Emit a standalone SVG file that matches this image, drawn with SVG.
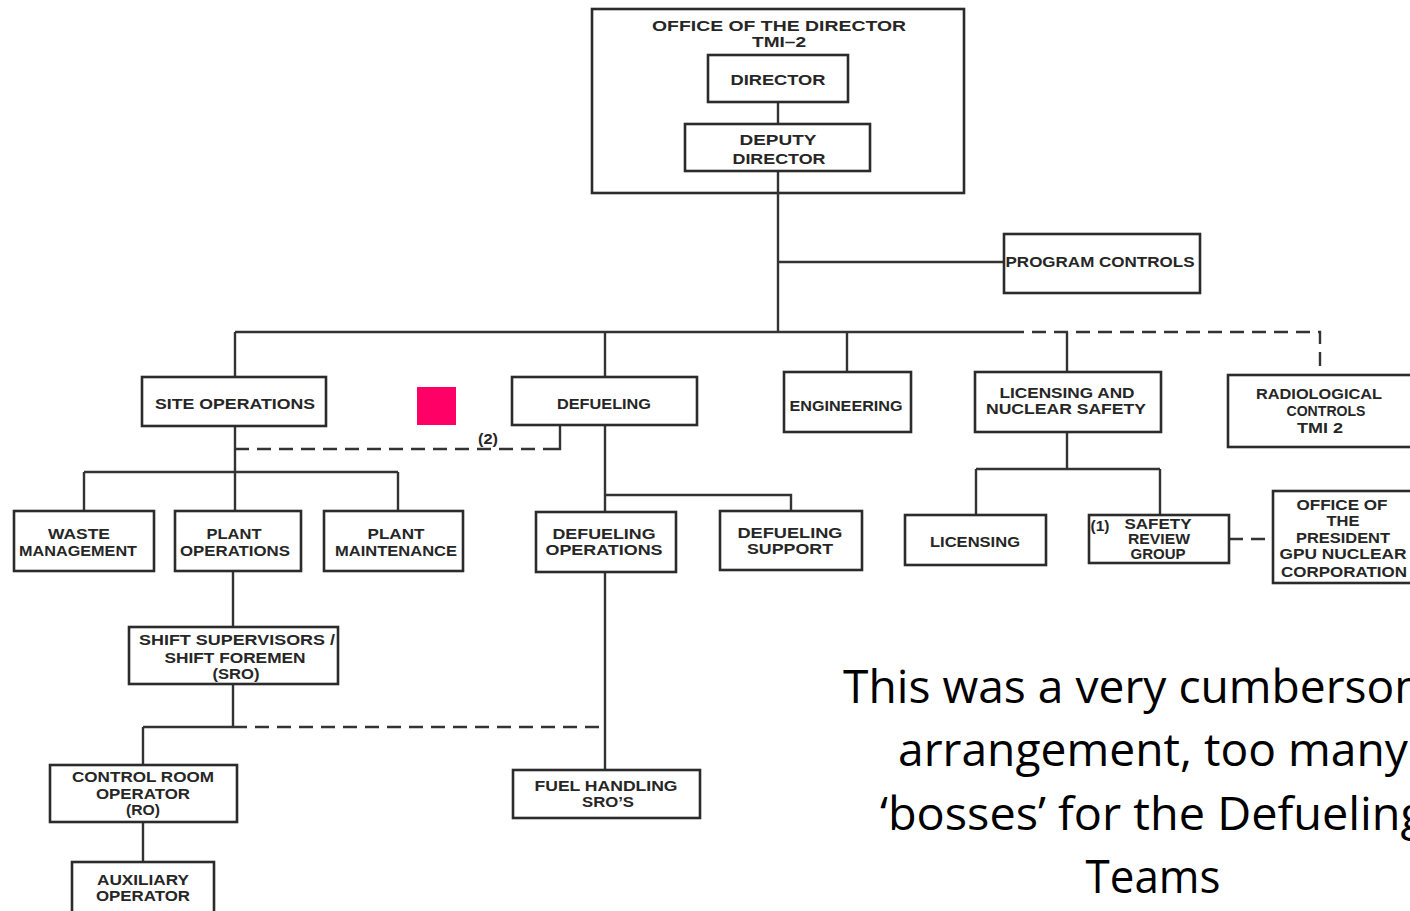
<svg xmlns="http://www.w3.org/2000/svg" width="1410" height="911" viewBox="0 0 1410 911">
<style>
.b{fill:#fff;stroke:#2b2b2b;stroke-width:2.6}
.t{font-family:"Liberation Sans",Arial,sans-serif;font-weight:bold;font-size:15px;fill:#262626;text-anchor:middle}
.c{fill:none;stroke:#333;stroke-width:2.4}
.d{fill:none;stroke:#333;stroke-width:2.4;stroke-dasharray:14 8}
.n{font-family:"Open Sans","Noto Sans",sans-serif;font-size:45px;fill:#000;text-anchor:middle}
</style>
<rect width="1410" height="911" fill="#fff"/>
<g id="office">
<rect x="592" y="9" width="372" height="184" fill="none" stroke="#2b2b2b" stroke-width="2.6"/>
<text class="t" x="779" y="31" textLength="254" lengthAdjust="spacingAndGlyphs">OFFICE OF THE DIRECTOR</text>
<text class="t" x="779" y="47" textLength="54" lengthAdjust="spacingAndGlyphs">TMI–2</text>
</g>
<g id="connectors">
<path class="c" d="M778 102V124M778 171V332M778 262H1004M235 332H1010M235 332V377M605 332V377M847 332V372M1067 332V372"/>
<path class="d" d="M1010 332H1320V375"/>
<path class="d" d="M235 449H552"/>
<path class="c" d="M552 449H560V426"/>
<path class="c" d="M235 426V511M84 472H398M84 472V511M398 472V511"/>
<path class="c" d="M605 425V770M605 495H791V511"/>
<path class="c" d="M1067 432V469M976 469H1160M976 469V515M1160 469V515"/>
<path class="d" d="M1229 539H1273"/>
<path class="c" d="M233 571V627M233 684V727M143 727H233M143 727V765M143 822V862"/>
<path class="d" d="M233 727H605"/>
</g>
<g id="director"><rect class="b" x="708" y="55" width="140" height="47"/>
<text class="t" x="778" y="85" textLength="95" lengthAdjust="spacingAndGlyphs">DIRECTOR</text></g>
<g id="deputy"><rect class="b" x="685" y="124" width="185" height="47"/>
<text class="t" x="778" y="145" textLength="77" lengthAdjust="spacingAndGlyphs">DEPUTY</text>
<text class="t" x="779" y="164" textLength="93" lengthAdjust="spacingAndGlyphs">DIRECTOR</text></g>
<g id="program"><rect class="b" x="1004" y="234" width="196" height="59"/>
<text class="t" x="1100" y="267" textLength="189" lengthAdjust="spacingAndGlyphs">PROGRAM CONTROLS</text></g>
<g id="siteops"><rect class="b" x="142" y="377" width="184" height="49"/>
<text class="t" x="235" y="409" textLength="160" lengthAdjust="spacingAndGlyphs">SITE OPERATIONS</text></g>
<rect id="marker" x="417" y="387" width="39" height="38" fill="#ff0066"/>
<g id="defueling"><rect class="b" x="512" y="377" width="185" height="48"/>
<text class="t" x="604" y="409" textLength="94" lengthAdjust="spacingAndGlyphs">DEFUELING</text></g>
<text class="t" x="488" y="444" textLength="20" lengthAdjust="spacingAndGlyphs">(2)</text>
<g id="engineering"><rect class="b" x="784" y="372" width="127" height="60"/>
<text class="t" x="846" y="411" textLength="113" lengthAdjust="spacingAndGlyphs">ENGINEERING</text></g>
<g id="licnuc"><rect class="b" x="975" y="372" width="186" height="60"/>
<text class="t" x="1067" y="398" textLength="135" lengthAdjust="spacingAndGlyphs">LICENSING AND</text>
<text class="t" x="1066" y="414" textLength="160" lengthAdjust="spacingAndGlyphs">NUCLEAR SAFETY</text></g>
<g id="radio"><rect class="b" x="1228" y="375" width="186" height="72"/>
<text class="t" x="1319" y="399" textLength="126" lengthAdjust="spacingAndGlyphs">RADIOLOGICAL</text>
<text class="t" x="1326" y="416" textLength="79" lengthAdjust="spacingAndGlyphs">CONTROLS</text>
<text class="t" x="1320" y="433" textLength="46" lengthAdjust="spacingAndGlyphs">TMI 2</text></g>
<g id="waste"><rect class="b" x="14" y="511" width="140" height="60"/>
<text class="t" x="79" y="539" textLength="62" lengthAdjust="spacingAndGlyphs">WASTE</text>
<text class="t" x="78" y="556" textLength="118" lengthAdjust="spacingAndGlyphs">MANAGEMENT</text></g>
<g id="plantops"><rect class="b" x="175" y="511" width="126" height="60"/>
<text class="t" x="234" y="539" textLength="55" lengthAdjust="spacingAndGlyphs">PLANT</text>
<text class="t" x="235" y="556" textLength="110" lengthAdjust="spacingAndGlyphs">OPERATIONS</text></g>
<g id="plantmaint"><rect class="b" x="324" y="511" width="139" height="60"/>
<text class="t" x="396" y="539" textLength="57" lengthAdjust="spacingAndGlyphs">PLANT</text>
<text class="t" x="396" y="556" textLength="122" lengthAdjust="spacingAndGlyphs">MAINTENANCE</text></g>
<g id="defops"><rect class="b" x="536" y="512" width="140" height="60"/>
<text class="t" x="604" y="539" textLength="103" lengthAdjust="spacingAndGlyphs">DEFUELING</text>
<text class="t" x="604" y="555" textLength="117" lengthAdjust="spacingAndGlyphs">OPERATIONS</text></g>
<g id="defsup"><rect class="b" x="720" y="511" width="142" height="59"/>
<text class="t" x="790" y="538" textLength="105" lengthAdjust="spacingAndGlyphs">DEFUELING</text>
<text class="t" x="790" y="554" textLength="86" lengthAdjust="spacingAndGlyphs">SUPPORT</text></g>
<g id="licensing"><rect class="b" x="905" y="515" width="141" height="50"/>
<text class="t" x="975" y="547" textLength="90" lengthAdjust="spacingAndGlyphs">LICENSING</text></g>
<g id="srg"><rect class="b" x="1089" y="515" width="140" height="48"/>
<text class="t" x="1100" y="531" textLength="19" lengthAdjust="spacingAndGlyphs">(1)</text>
<text class="t" x="1158" y="529" textLength="67" lengthAdjust="spacingAndGlyphs">SAFETY</text>
<text class="t" x="1159" y="544" textLength="62" lengthAdjust="spacingAndGlyphs">REVIEW</text>
<text class="t" x="1158" y="559" textLength="55" lengthAdjust="spacingAndGlyphs">GROUP</text></g>
<g id="president"><rect class="b" x="1273" y="491" width="141" height="92"/>
<text class="t" x="1342" y="510" textLength="91" lengthAdjust="spacingAndGlyphs">OFFICE OF</text>
<text class="t" x="1343" y="526" textLength="33" lengthAdjust="spacingAndGlyphs">THE</text>
<text class="t" x="1343" y="543" textLength="94" lengthAdjust="spacingAndGlyphs">PRESIDENT</text>
<text class="t" x="1343" y="559" textLength="127" lengthAdjust="spacingAndGlyphs">GPU NUCLEAR</text>
<text class="t" x="1344" y="577" textLength="126" lengthAdjust="spacingAndGlyphs">CORPORATION</text></g>
<g id="shift"><rect class="b" x="129" y="627" width="209" height="57"/>
<text class="t" x="237" y="645" textLength="196" lengthAdjust="spacingAndGlyphs">SHIFT SUPERVISORS /</text>
<text class="t" x="235" y="663" textLength="141" lengthAdjust="spacingAndGlyphs">SHIFT FOREMEN</text>
<text class="t" x="236" y="679" textLength="47" lengthAdjust="spacingAndGlyphs">(SRO)</text></g>
<g id="cro"><rect class="b" x="50" y="765" width="187" height="57"/>
<text class="t" x="143" y="782" textLength="142" lengthAdjust="spacingAndGlyphs">CONTROL ROOM</text>
<text class="t" x="143" y="799" textLength="94" lengthAdjust="spacingAndGlyphs">OPERATOR</text>
<text class="t" x="143" y="815" textLength="34" lengthAdjust="spacingAndGlyphs">(RO)</text></g>
<g id="aux"><rect class="b" x="72" y="862" width="142" height="55"/>
<text class="t" x="143" y="885" textLength="92" lengthAdjust="spacingAndGlyphs">AUXILIARY</text>
<text class="t" x="143" y="901" textLength="94" lengthAdjust="spacingAndGlyphs">OPERATOR</text></g>
<g id="fuel"><rect class="b" x="513" y="770" width="187" height="48"/>
<text class="t" x="606" y="791" textLength="143" lengthAdjust="spacingAndGlyphs">FUEL HANDLING</text>
<text class="t" x="608" y="807" textLength="52" lengthAdjust="spacingAndGlyphs">SRO’S</text></g>
<g id="note">
<text class="n" x="1153" y="703" textLength="620" lengthAdjust="spacingAndGlyphs">This was a very cumbersome</text>
<text class="n" x="1153" y="766" textLength="510" lengthAdjust="spacingAndGlyphs">arrangement, too many</text>
<text class="n" x="1153" y="830" textLength="546" lengthAdjust="spacingAndGlyphs">‘bosses’ for the Defueling</text>
<text class="n" x="1153" y="893" textLength="135" lengthAdjust="spacingAndGlyphs">Teams</text>
</g>
</svg>
